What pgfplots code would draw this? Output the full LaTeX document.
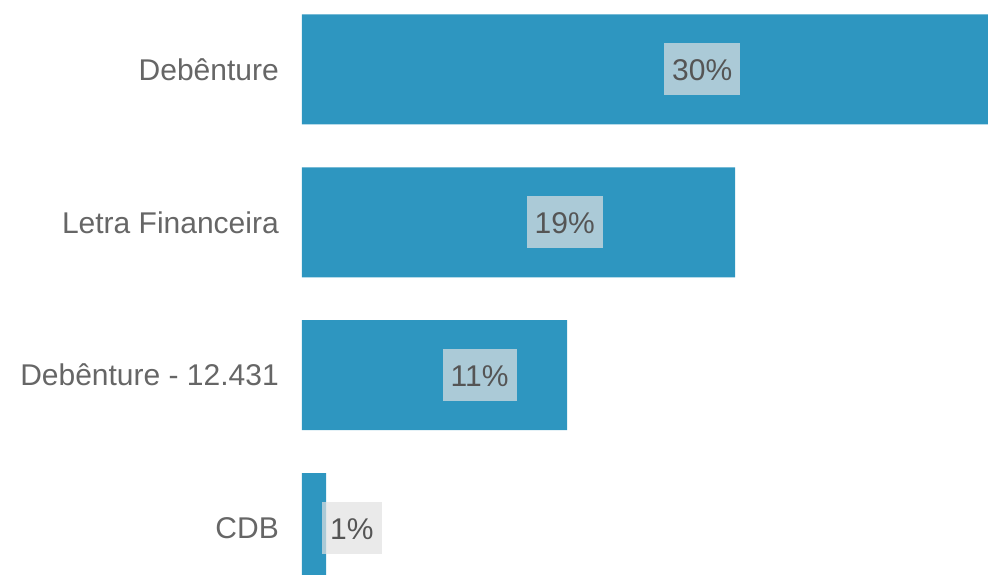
\documentclass[border=0pt]{standalone}
\usepackage{pgfplots}
\pgfplotsset{compat=1.18}
\usepackage{fontspec}
\setmainfont{Liberation Sans}
\definecolor{barblue}{HTML}{2E96C0}
\definecolor{boxfill}{HTML}{E1E1E1}
\definecolor{catgray}{HTML}{666666}
\definecolor{valgray}{HTML}{555555}
\begin{document}
\begin{tikzpicture}
\begin{axis}[
  at={(0,0)}, anchor=south west,
  scale only axis, width=686pt, height=575pt,
  xmin=0, xmax=29.07, ymin=-0.307, ymax=3.454,
  axis line style={draw=none},
  xtick=\empty,
  ytick={0,1,2,3},
  yticklabels={CDB, Debênture - 12.431, Letra Financeira, Debênture},
  major tick length=0pt,
  yticklabel style={font=\fontsize{30}{35}\selectfont, text=catgray, inner sep=0pt, xshift=-23pt},
  xbar, bar width=110pt, bar shift=0pt,
]
\addplot[draw=none, fill=barblue, bar shift=0pt] coordinates {
(30,3)
(18.35,2)
(11.23,1)
(1.02,0)
};
% labels sit a little right of each bar's middle
\addplot[draw=none, bar shift=0pt, bar width=0pt, fill=none,
  nodes near coords, point meta=explicit symbolic,
  every node near coord/.style={anchor=west, xshift=8pt,
    font=\fontsize{30}{35}\selectfont, text=valgray,
    fill=boxfill, fill opacity=0.7, text opacity=1,
    inner xsep=8pt, inner ysep=15pt, text height=22pt, text depth=0pt}]
coordinates {
(15,3) [30\%]
(9.175,2) [19\%]
(5.615,1) [11\%]
(0.51,0) [1\%]
};
\end{axis}
\pgfresetboundingbox
\path[use as bounding box] (-302pt,0) rectangle (686pt,575pt);
\end{tikzpicture}
\end{document}
